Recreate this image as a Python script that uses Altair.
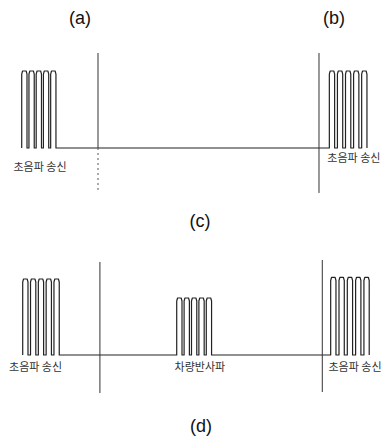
import altair as alt
import pandas as pd

# ---- data (time axis in arbitrary units; amplitude relative to a transmit burst) ----
CYCLES = 5
HIGH_WIDTH = 1.38      # duration of the high part of one cycle

# top panel (c): transmit bursts
top_burst_start = [3.58, 83.9]
top_burst_period = [1.89, 2.11]
top_burst_amp = [1.0, 1.0]
# bottom panel (d): transmit, vehicle echo, transmit
bot_burst_start = [3.84, 44.05, 84.25]
bot_burst_period = [2.04, 1.93, 2.17]
bot_burst_amp = [1.0, 0.75, 1.02]

# vertical marker segments: time, upper end, lower end, style
top_marker_t = [23.5, 23.5, 81.2]
top_marker_hi = [1.234, 0.0, 1.234]
top_marker_lo = [0.0, -0.545, -0.584]
top_marker_style = ["solid", "dotted", "solid"]
bot_marker_t = [24.0, 82.06]
bot_marker_hi = [1.224, 1.25]
bot_marker_lo = [-0.50, -0.487]
bot_marker_style = ["solid", "solid"]

# labels
top_label_text = ["초음파 송신", "초음파 송신"]
top_label_t = [8.36, 90.3]
top_label_y = [-0.26, -0.14]
bot_label_text = ["초음파 송신", "차량반사파", "초음파 송신"]
bot_label_t = [7.2, 50.1, 90.6]
bot_label_y = [-0.17, -0.17, -0.17]

top_caption_text = ["(a)", "(b)", "(c)"]
top_caption_t = [18.8, 85.1, 50.1]
top_caption_y = [1.675, 1.675, -0.96]
bot_caption_text = ["(d)"]
bot_caption_t = [50.4]
bot_caption_y = [-0.947]

W = 375
X_DOMAIN = [0, 97.91]
TOP_Y_DOMAIN = [-1.195, 1.818]
BOT_Y_DOMAIN = [-1.171, 1.513]
TOP_H = 232
BOT_H = 204


def waveform(starts, periods, amps):
    pts = []
    r = 0.22
    for s, p, a in zip(starts, periods, amps):
        for k in range(CYCLES):
            x0 = s + k * p
            x1 = x0 + HIGH_WIDTH
            pts += [(x0, 0.0), (x0, a - 0.04), (x0 + r, a), (x1 - r, a),
                    (x1, a - 0.04), (x1, 0.0)]
    return pd.DataFrame({"t": [q[0] for q in pts], "amp": [q[1] for q in pts],
                         "order": list(range(len(pts)))})


def panel(wave, mt, mhi, mlo, mstyle, lt, lx, ly, ct, cx, cy, ydom, h):
    xs = alt.Scale(domain=X_DOMAIN, nice=False, zero=False)
    ys = alt.Scale(domain=ydom, nice=False, zero=False)
    base = alt.Chart(wave).mark_line(color="#222", strokeWidth=1.2, strokeJoin="round").encode(
        x=alt.X("t:Q", scale=xs, axis=None),
        y=alt.Y("amp:Q", scale=ys, axis=None),
        order="order:Q",
    )
    mk = pd.DataFrame({"t": mt, "hi": mhi, "lo": mlo, "style": mstyle})
    solid = alt.Chart(mk).transform_filter("datum.style == 'solid'").mark_rule(
        color="#333", strokeWidth=1).encode(
        x=alt.X("t:Q", scale=xs), y=alt.Y("hi:Q", scale=ys), y2="lo:Q")
    dotted = alt.Chart(mk).transform_filter("datum.style == 'dotted'").mark_rule(
        color="#555", strokeWidth=1, strokeDash=[2, 3]).encode(
        x=alt.X("t:Q", scale=xs), y=alt.Y("hi:Q", scale=ys), y2="lo:Q")
    lab = alt.Chart(pd.DataFrame({"text": lt, "t": lx, "y": ly})).mark_text(
        font="Noto Sans CJK KR", fontSize=11, color="#333", align="center", baseline="middle").encode(
        x=alt.X("t:Q", scale=xs), y=alt.Y("y:Q", scale=ys), text="text:N")
    cap = alt.Chart(pd.DataFrame({"text": ct, "t": cx, "y": cy})).mark_text(
        font="Liberation Sans", fontSize=18, color="#111", align="center", baseline="middle").encode(
        x=alt.X("t:Q", scale=xs), y=alt.Y("y:Q", scale=ys), text="text:N")
    return alt.layer(base, solid, dotted, lab, cap).properties(width=W, height=h)


top = panel(waveform(top_burst_start, top_burst_period, top_burst_amp),
            top_marker_t, top_marker_hi, top_marker_lo, top_marker_style,
            top_label_text, top_label_t, top_label_y,
            top_caption_text, top_caption_t, top_caption_y, TOP_Y_DOMAIN, TOP_H)
bot = panel(waveform(bot_burst_start, bot_burst_period, bot_burst_amp),
            bot_marker_t, bot_marker_hi, bot_marker_lo, bot_marker_style,
            bot_label_text, bot_label_t, bot_label_y,
            bot_caption_text, bot_caption_t, bot_caption_y, BOT_Y_DOMAIN, BOT_H)

chart = alt.vconcat(top, bot, spacing=0).properties(padding=0).configure_view(stroke=None)
chart.save("out.html", embed_options={"renderer": "svg", "actions": False})
